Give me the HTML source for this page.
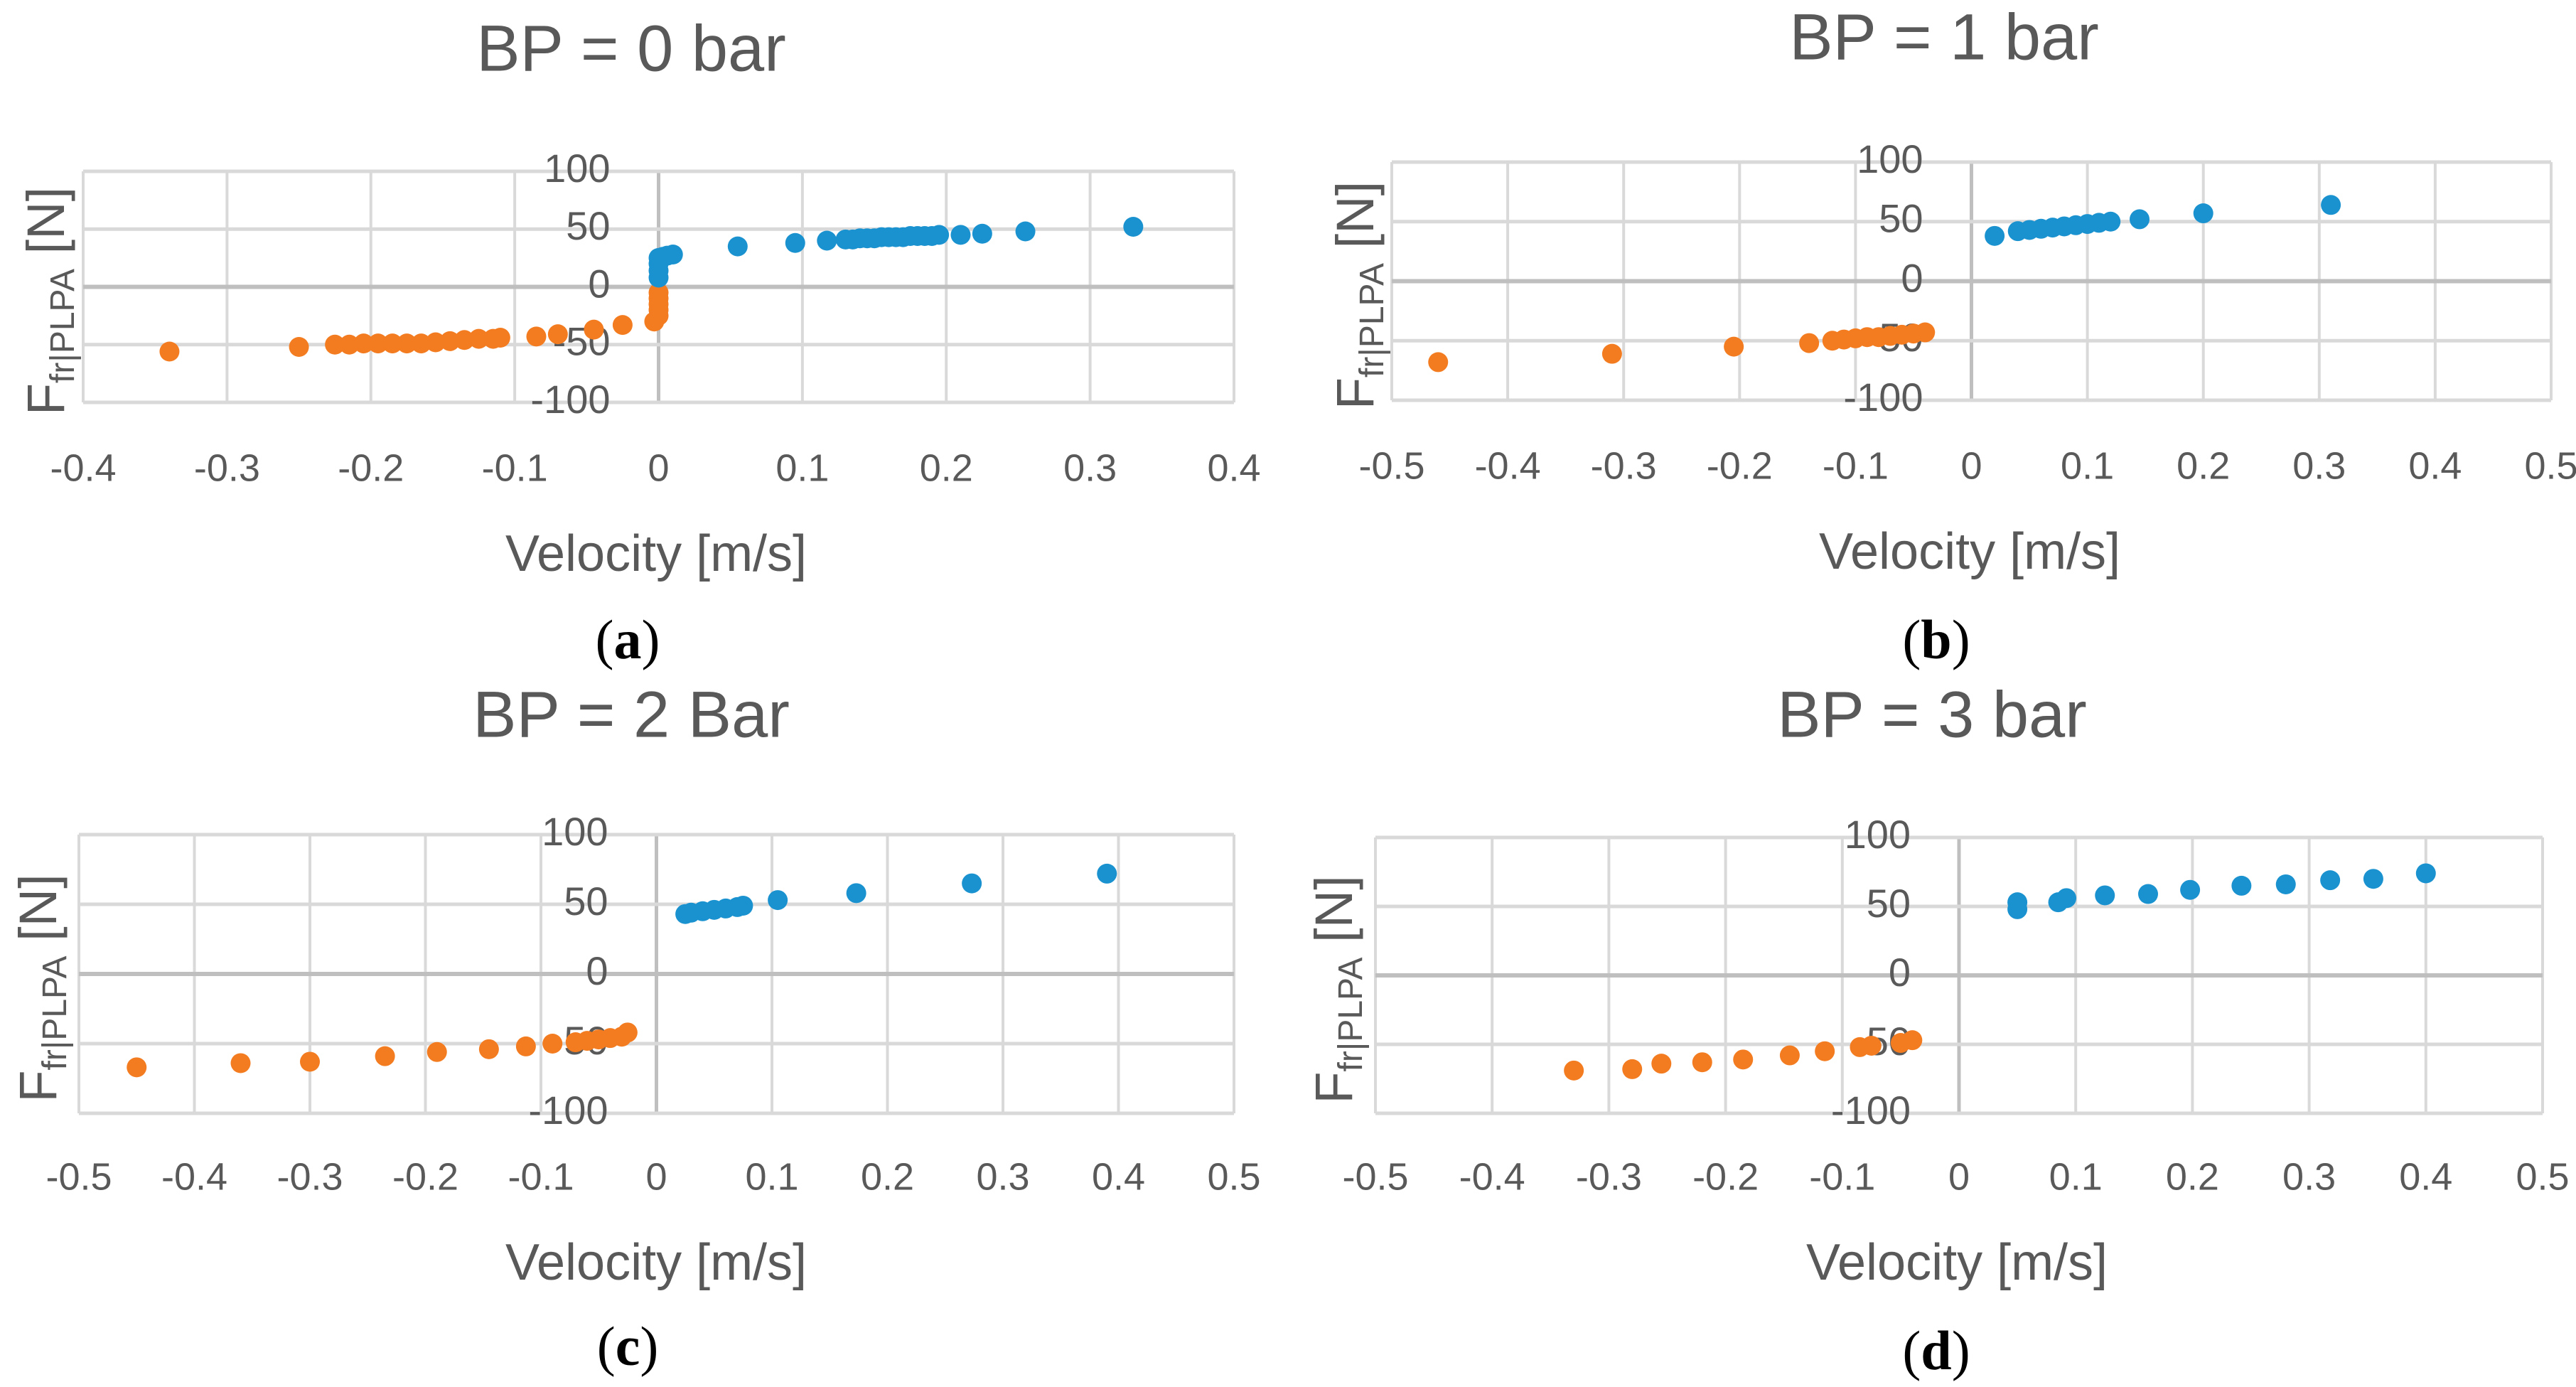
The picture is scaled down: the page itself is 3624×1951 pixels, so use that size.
<!DOCTYPE html>
<html><head><meta charset="utf-8"><style>
html,body{margin:0;padding:0;background:#fff;}
svg{display:block;}
text{font-family:"Liberation Sans Narrow","Liberation Sans",sans-serif;fill:#595959;}
.cap{font-family:"Liberation Serif",serif;fill:#000;}
</style></head><body>
<svg id="fig" width="3624" height="1951" viewBox="0 0 3624 1951" xmlns="http://www.w3.org/2000/svg"></svg>
<script>
const aBlueX=[0,0,0,0,0.003,0.006,0.01,0.055,0.095,0.117,0.13,0.135,0.14,0.145,0.15,0.155,0.16,0.165,0.17,0.175,0.18,0.185,0.19,0.195,0.21,0.225,0.255,0.33];
const aBlueY=[8,14,20,25,26,27,28,35,38,40,41,41,42,42,42,43,43,43,43,44,44,44,44,45,45,46,48,52];
const aOrgX=[-0.34,-0.25,-0.225,-0.215,-0.205,-0.195,-0.185,-0.175,-0.165,-0.155,-0.145,-0.135,-0.125,-0.115,-0.11,-0.085,-0.07,-0.045,-0.025,-0.003,0,0,0,0,0];
const aOrgY=[-56,-52,-50,-50,-49,-49,-49,-49,-49,-48,-47,-46,-45,-45,-44,-43,-41,-37,-33,-30,-25,-20,-15,-10,-5];
const bBlueX=[0.02,0.04,0.05,0.06,0.07,0.08,0.09,0.1,0.11,0.12,0.145,0.2,0.31];
const bBlueY=[38,42,43,44,45,46,47,48,49,50,52,57,64];
const bOrgX=[-0.46,-0.31,-0.205,-0.14,-0.12,-0.11,-0.1,-0.09,-0.08,-0.07,-0.06,-0.05,-0.04];
const bOrgY=[-68,-61,-55,-52,-50,-49,-48,-47,-47,-46,-45,-44,-43];
const cBlueX=[0.025,0.03,0.04,0.05,0.06,0.07,0.075,0.105,0.173,0.273,0.39];
const cBlueY=[43,44,45,46,47,48,49,53,58,65,72];
const cOrgX=[-0.45,-0.36,-0.3,-0.235,-0.19,-0.145,-0.113,-0.09,-0.07,-0.06,-0.05,-0.04,-0.03,-0.025];
const cOrgY=[-67,-64,-63,-59,-56,-54,-52,-50,-49,-48,-47,-46,-45,-42];
const dBlueX=[0.05,0.05,0.085,0.092,0.125,0.162,0.198,0.242,0.28,0.318,0.355,0.4];
const dBlueY=[48,53,53,56,58,59,62,65,66,69,70,74];
const dOrgX=[-0.33,-0.28,-0.255,-0.22,-0.185,-0.145,-0.115,-0.085,-0.075,-0.05,-0.04];
const dOrgY=[-69,-68,-64,-63,-61,-58,-55,-52,-51,-49,-47];
const yTicks=[100,50,0,-50,-100];
const xTicksA=[-0.4,-0.3,-0.2,-0.1,0,0.1,0.2,0.3,0.4];
const xTicksB=[-0.5,-0.4,-0.3,-0.2,-0.1,0,0.1,0.2,0.3,0.4,0.5];
const titles=["BP = 0 bar","BP = 1 bar","BP = 2 Bar","BP = 3 bar"];
const captions=["a","b","c","d"];

const NS="http://www.w3.org/2000/svg";
const svg=document.getElementById('fig');
function mk(tag,attrs,parent){const e=document.createElementNS(NS,tag);for(const k in attrs)e.setAttribute(k,attrs[k]);(parent||svg).appendChild(e);return e;}

const panels=[
 {L:117,R:1736,T:241,B:566,xt:xTicksA,bx:aBlueX,by:aBlueY,ox:aOrgX,oy:aOrgY,tx:888,ty:75,xly:784,xlx:923,cx:883,cy:900,ylx:64},
 {L:1958,R:3589,T:228,B:563,xt:xTicksB,bx:bBlueX,by:bBlueY,ox:bOrgX,oy:bOrgY,tx:2735,ty:59,xly:781,xlx:2771,cx:2724,cy:900,ylx:1906},
 {L:111,R:1736,T:1174,B:1566,xt:xTicksB,bx:cBlueX,by:cBlueY,ox:cOrgX,oy:cOrgY,tx:888,ty:1012,xly:1781,xlx:923,cx:883,cy:1894,ylx:53},
 {L:1935,R:3577,T:1178,B:1566,xt:xTicksB,bx:dBlueX,by:dBlueY,ox:dOrgX,oy:dOrgY,tx:2718,ty:1012,xly:1781,xlx:2753,cx:2724,cy:1900,ylx:1876}
];
panels.forEach((p,i)=>{
 const g=mk('g',{});
 
 
 const xmin=p.xt[0],xmax=p.xt[p.xt.length-1];
 const X=v=>p.L+(v-xmin)/(xmax-xmin)*(p.R-p.L);
 const Y=v=>p.T+(100-v)/200*(p.B-p.T);
 p.xt.forEach(t=>{const l=mk('line',{x1:X(t),x2:X(t),y1:p.T,y2:p.B,stroke:t===0?'#bfbfbf':'#d9d9d9','stroke-width':t===0?5:4},g);
  });
 yTicks.forEach(t=>{const l=mk('line',{x1:p.L,x2:p.R,y1:Y(t),y2:Y(t),stroke:t===0?'#bfbfbf':'#d9d9d9','stroke-width':t===0?6:5},g);
  });
 p.xt.forEach(t=>{const s=mk('text',{x:X(t),y:p.xly-122,'font-size':54,'text-anchor':'middle','dominant-baseline':'middle'},g);
  s.textContent=String(t);});
 yTicks.forEach(t=>{const s=mk('text',{x:X(0)-68,y:Y(t),'font-size':56,'text-anchor':'end','dominant-baseline':'middle'},g);
  s.textContent=String(t);});
 p.ox.forEach((v,k)=>{const c=mk('ellipse',{cx:X(v),cy:Y(p.oy[k]),rx:14,ry:14,fill:'#f47c20'},g);
  });
 p.bx.forEach((v,k)=>{const c=mk('ellipse',{cx:X(v),cy:Y(p.by[k]),rx:14,ry:14,fill:'#1a92d0'},g);
  });
 const tt=mk('text',{x:p.tx,y:p.ty,'font-size':92,'text-anchor':'middle','dominant-baseline':'middle'},g);
 tt.textContent=titles[i];
 const xl=mk('text',{x:p.xlx,y:p.xly,'font-size':72,'text-anchor':'middle','dominant-baseline':'middle'},g);
 xl.textContent='Velocity [m/s]';
 const ycy=(p.T+p.B)/2+20;
 const yl=mk('text',{x:p.ylx+26,y:ycy,'font-size':74,'text-anchor':'middle',transform:`rotate(-90 ${p.ylx+26} ${ycy})`,style:'font-family:"Liberation Sans",sans-serif'},g);
 
 const t1=mk('tspan',{},yl);t1.textContent='F';
 const t2=mk('tspan',{'font-size':48,dy:14},yl);t2.textContent='fr|PLPA';
 const t3=mk('tspan',{dy:-14},yl);t3.textContent=' [N]';
 const cp=mk('text',{x:p.cx,y:p.cy+26,'font-size':78,'text-anchor':'middle',class:'cap'},g);
 
 const c1=mk('tspan',{},cp);c1.textContent='(';
 const c2=mk('tspan',{'font-weight':'bold'},cp);c2.textContent=captions[i];
 const c3=mk('tspan',{},cp);c3.textContent=')';
});
</script>
</body></html>
